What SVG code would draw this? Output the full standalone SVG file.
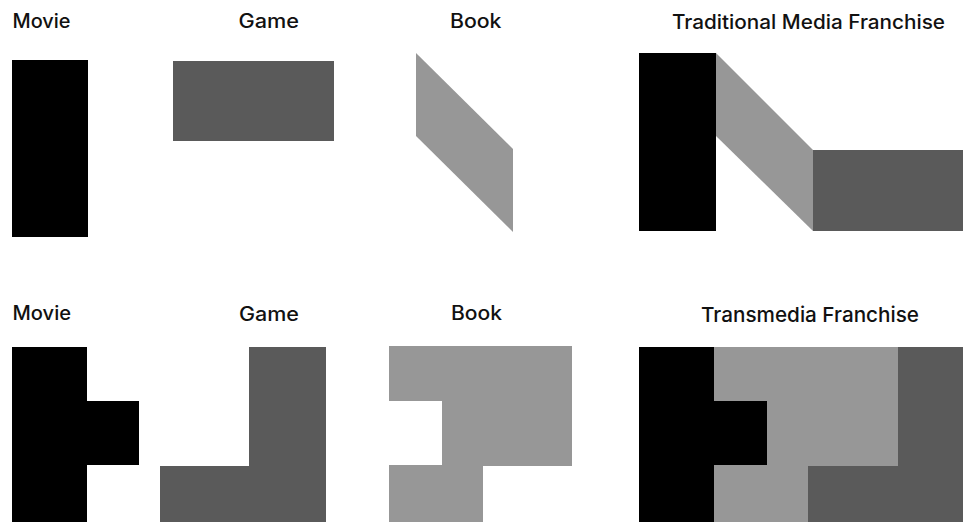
<svg xmlns="http://www.w3.org/2000/svg" width="963" height="522" viewBox="0 0 963 522">
<style>
  .lbl { font-family: "Inter", "Liberation Sans", sans-serif; font-weight: 500; font-size: 19.5px; fill: #111; }
  .blk { fill: #000; }
  .drk { fill: #5a5a5a; }
  .lgt { fill: #979797; }
</style>
<rect width="963" height="522" fill="#fff"/>
<!-- Top row -->
<g id="movie-top">
  <text class="lbl" x="12.5" y="27.5" textLength="58" lengthAdjust="spacingAndGlyphs">Movie</text>
  <rect class="blk" x="12" y="60" width="76" height="177"/>
</g>
<g id="game-top">
  <text class="lbl" x="238.5" y="27.5" textLength="60.5" lengthAdjust="spacingAndGlyphs">Game</text>
  <rect class="drk" x="173" y="61" width="161" height="80"/>
</g>
<g id="book-top">
  <text class="lbl" x="450" y="27.5" textLength="51.5" lengthAdjust="spacingAndGlyphs">Book</text>
  <polygon class="lgt" points="416,53 513,149 513,232 416,136"/>
</g>
<g id="traditional-franchise">
  <text class="lbl" x="672" y="29" textLength="273" lengthAdjust="spacingAndGlyphs">Traditional Media Franchise</text>
  <rect class="blk" x="639" y="53" width="77" height="178"/>
  <polygon class="lgt" points="716,53 813,150 813,231 716,136"/>
  <rect class="drk" x="813" y="150" width="150" height="81"/>
</g>
<!-- Bottom row -->
<g id="movie-bottom">
  <text class="lbl" x="12.5" y="319.5" textLength="58.5" lengthAdjust="spacingAndGlyphs">Movie</text>
  <polygon class="blk" points="12,347 87,347 87,401 139,401 139,465 87,465 87,522 12,522"/>
</g>
<g id="game-bottom">
  <text class="lbl" x="239" y="320.5" textLength="60" lengthAdjust="spacingAndGlyphs">Game</text>
  <polygon class="drk" points="249,347 326,347 326,522 160,522 160,466 249,466"/>
</g>
<g id="book-bottom">
  <text class="lbl" x="451" y="319.5" textLength="51" lengthAdjust="spacingAndGlyphs">Book</text>
  <polygon class="lgt" points="389,346 572,346 572,466 483,466 483,522 389,522 389,465 442,465 442,401 389,401"/>
</g>
<g id="transmedia-franchise">
  <text class="lbl" x="701" y="321.5" textLength="218" lengthAdjust="spacingAndGlyphs" style="font-size:20.5px">Transmedia Franchise</text>
  <polygon class="lgt" points="714,347 898,347 898,466 808,466 808,522 714,522"/>
  <polygon class="drk" points="898,347 963,347 963,522 808,522 808,466 898,466"/>
  <polygon class="blk" points="639,347 714,347 714,401 767,401 767,465 714,465 714,522 639,522"/>
</g>
</svg>
